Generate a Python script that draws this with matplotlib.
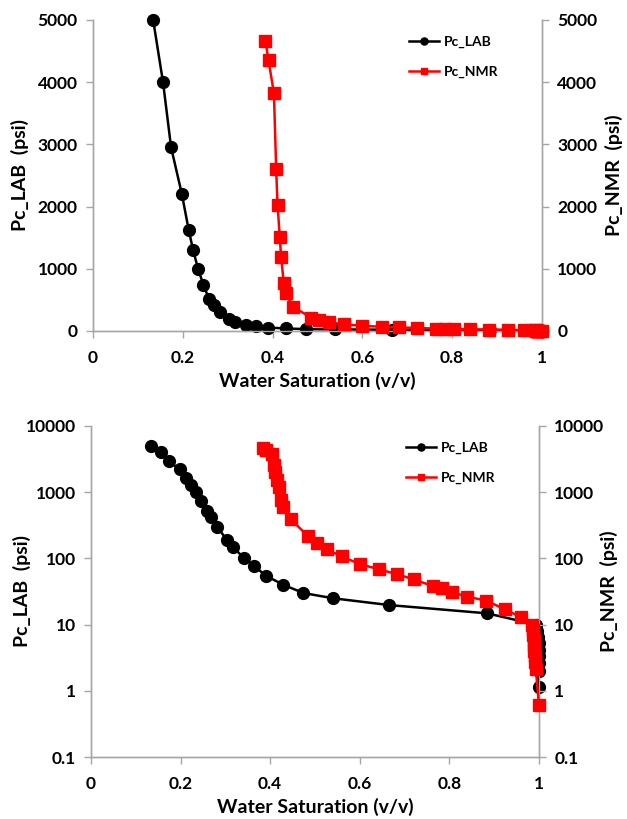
import matplotlib.pyplot as plt
from matplotlib.ticker import FixedLocator, FixedFormatter, NullLocator
from matplotlib.transforms import blended_transform_factory

plt.rcParams['font.family'] = ['Lato', 'DejaVu Sans']
plt.rcParams['font.weight'] = 'bold'

# Lab capillary pressure curve
sw_lab = [0.134, 0.156, 0.174, 0.198, 0.213, 0.223, 0.234, 0.246, 0.258, 0.269,
          0.282, 0.303, 0.316, 0.341, 0.364, 0.390, 0.429, 0.474, 0.540, 0.666,
          0.884, 0.993, 0.996, 0.998, 0.999, 1.0, 1.0, 1.0, 1.0, 0.999]
pc_lab = [5000, 4000, 2950, 2200, 1630, 1300, 1000, 740, 520, 420,
          300, 190, 150, 102, 77, 55, 40, 30, 25, 19.7,
          14.8, 10, 8, 6.5, 5.2, 4.2, 3.3, 2.6, 2.0, 1.15]

# NMR derived capillary pressure curve
sw_nmr = [0.384, 0.391, 0.403, 0.408, 0.411, 0.416, 0.419, 0.425, 0.429, 0.446,
          0.485, 0.504, 0.526, 0.560, 0.600, 0.644, 0.682, 0.721, 0.764, 0.783,
          0.805, 0.839, 0.882, 0.924, 0.961, 0.984, 0.986, 0.987, 0.988, 0.989,
          0.990, 0.991, 0.992, 0.993, 1.0]
pc_nmr = [4670, 4350, 3820, 2600, 2030, 1516, 1185, 767, 606, 390,
          215, 170, 137, 107, 82, 68, 58, 48, 38, 35.5,
          31, 26.5, 23, 17, 12.8, 9.8, 8.3, 7.0, 5.9, 4.9,
          4.0, 3.3, 2.7, 2.1, 0.6]

x_ticks = [0, 0.2, 0.4, 0.6, 0.8, 1]
x_labels = ['0', '0.2', '0.4', '0.6', '0.8', '1']
lin_ticks = [0, 1000, 2000, 3000, 4000, 5000]
log_ticks = [0.1, 1, 10, 100, 1000, 10000]
log_labels = ['0.1', '1', '10', '100', '1000', '10000']

grey = '#a6a6a6'


def style_axes(ax):
    """
    Grey spines and outward ticks like the spreadsheet chart
    """
    for side in ['left', 'right', 'bottom']:
        ax.spines[side].set_color(grey)
        ax.spines[side].set_linewidth(1.0)
    ax.spines['top'].set_visible(False)
    ax.tick_params(direction='out', color=grey, length=5, width=1,
                   labelsize=12.5, pad=6)


def plot_pair(fig, ax, log_scale, left_px, right_px):
    ax2 = ax.twinx()
    l1, = ax.plot(sw_lab, pc_lab, color='black', marker='o', markersize=8.5,
                  linewidth=1.8, label='Pc_LAB', clip_on=False, zorder=3)
    l2, = ax2.plot(sw_nmr, pc_nmr, color='red', marker='s', markersize=8,
                   linewidth=1.8, label='Pc_NMR', clip_on=False, zorder=3)
    for a in [ax, ax2]:
        style_axes(a)
        if log_scale:
            a.set_yscale('log')
            a.set_ylim(0.1, 10000)
            a.yaxis.set_major_locator(FixedLocator(log_ticks))
            a.yaxis.set_major_formatter(FixedFormatter(log_labels))
            a.yaxis.set_minor_locator(NullLocator())
        else:
            a.set_ylim(0, 5000)
            a.set_yticks(lin_ticks)
    ax.set_xlim(0, 1)
    ax.set_xticks(x_ticks)
    ax.set_xticklabels(x_labels)
    ax.tick_params(axis='x', pad=9)
    ax.set_xlabel('Water Saturation (v/v)', fontsize=14, fontweight='bold', labelpad=4)
    ax.set_ylabel('Pc_LAB  (psi)', fontsize=14, fontweight='bold')
    ax2.set_ylabel('Pc_NMR  (psi)', fontsize=14, fontweight='bold')
    # pin the y labels to fixed pixel columns so wide tick labels don't push them off
    tr = blended_transform_factory(fig.transFigure, ax.transAxes)
    ax.yaxis.set_label_coords(left_px / 627, 0.5, transform=tr)
    ax2.yaxis.set_label_coords(right_px / 627, 0.5, transform=tr)
    ax2.legend(handles=[l1, l2], loc='upper right', bbox_to_anchor=(0.93, 0.99),
               frameon=False, fontsize=10, handlelength=2.2, labelspacing=1.3,
               handletextpad=0.3, markerscale=0.6)


fig = plt.figure(figsize=(6.27, 8.19), dpi=100)
ax_top = fig.add_axes([0.1483, 0.5959, 0.7161, 0.3797])
ax_bot = fig.add_axes([0.1451, 0.0757, 0.7145, 0.4042])

plot_pair(fig, ax_top, False, 29, 605)
plot_pair(fig, ax_bot, True, 31, 600)

fig.savefig('out.png', dpi=100)
